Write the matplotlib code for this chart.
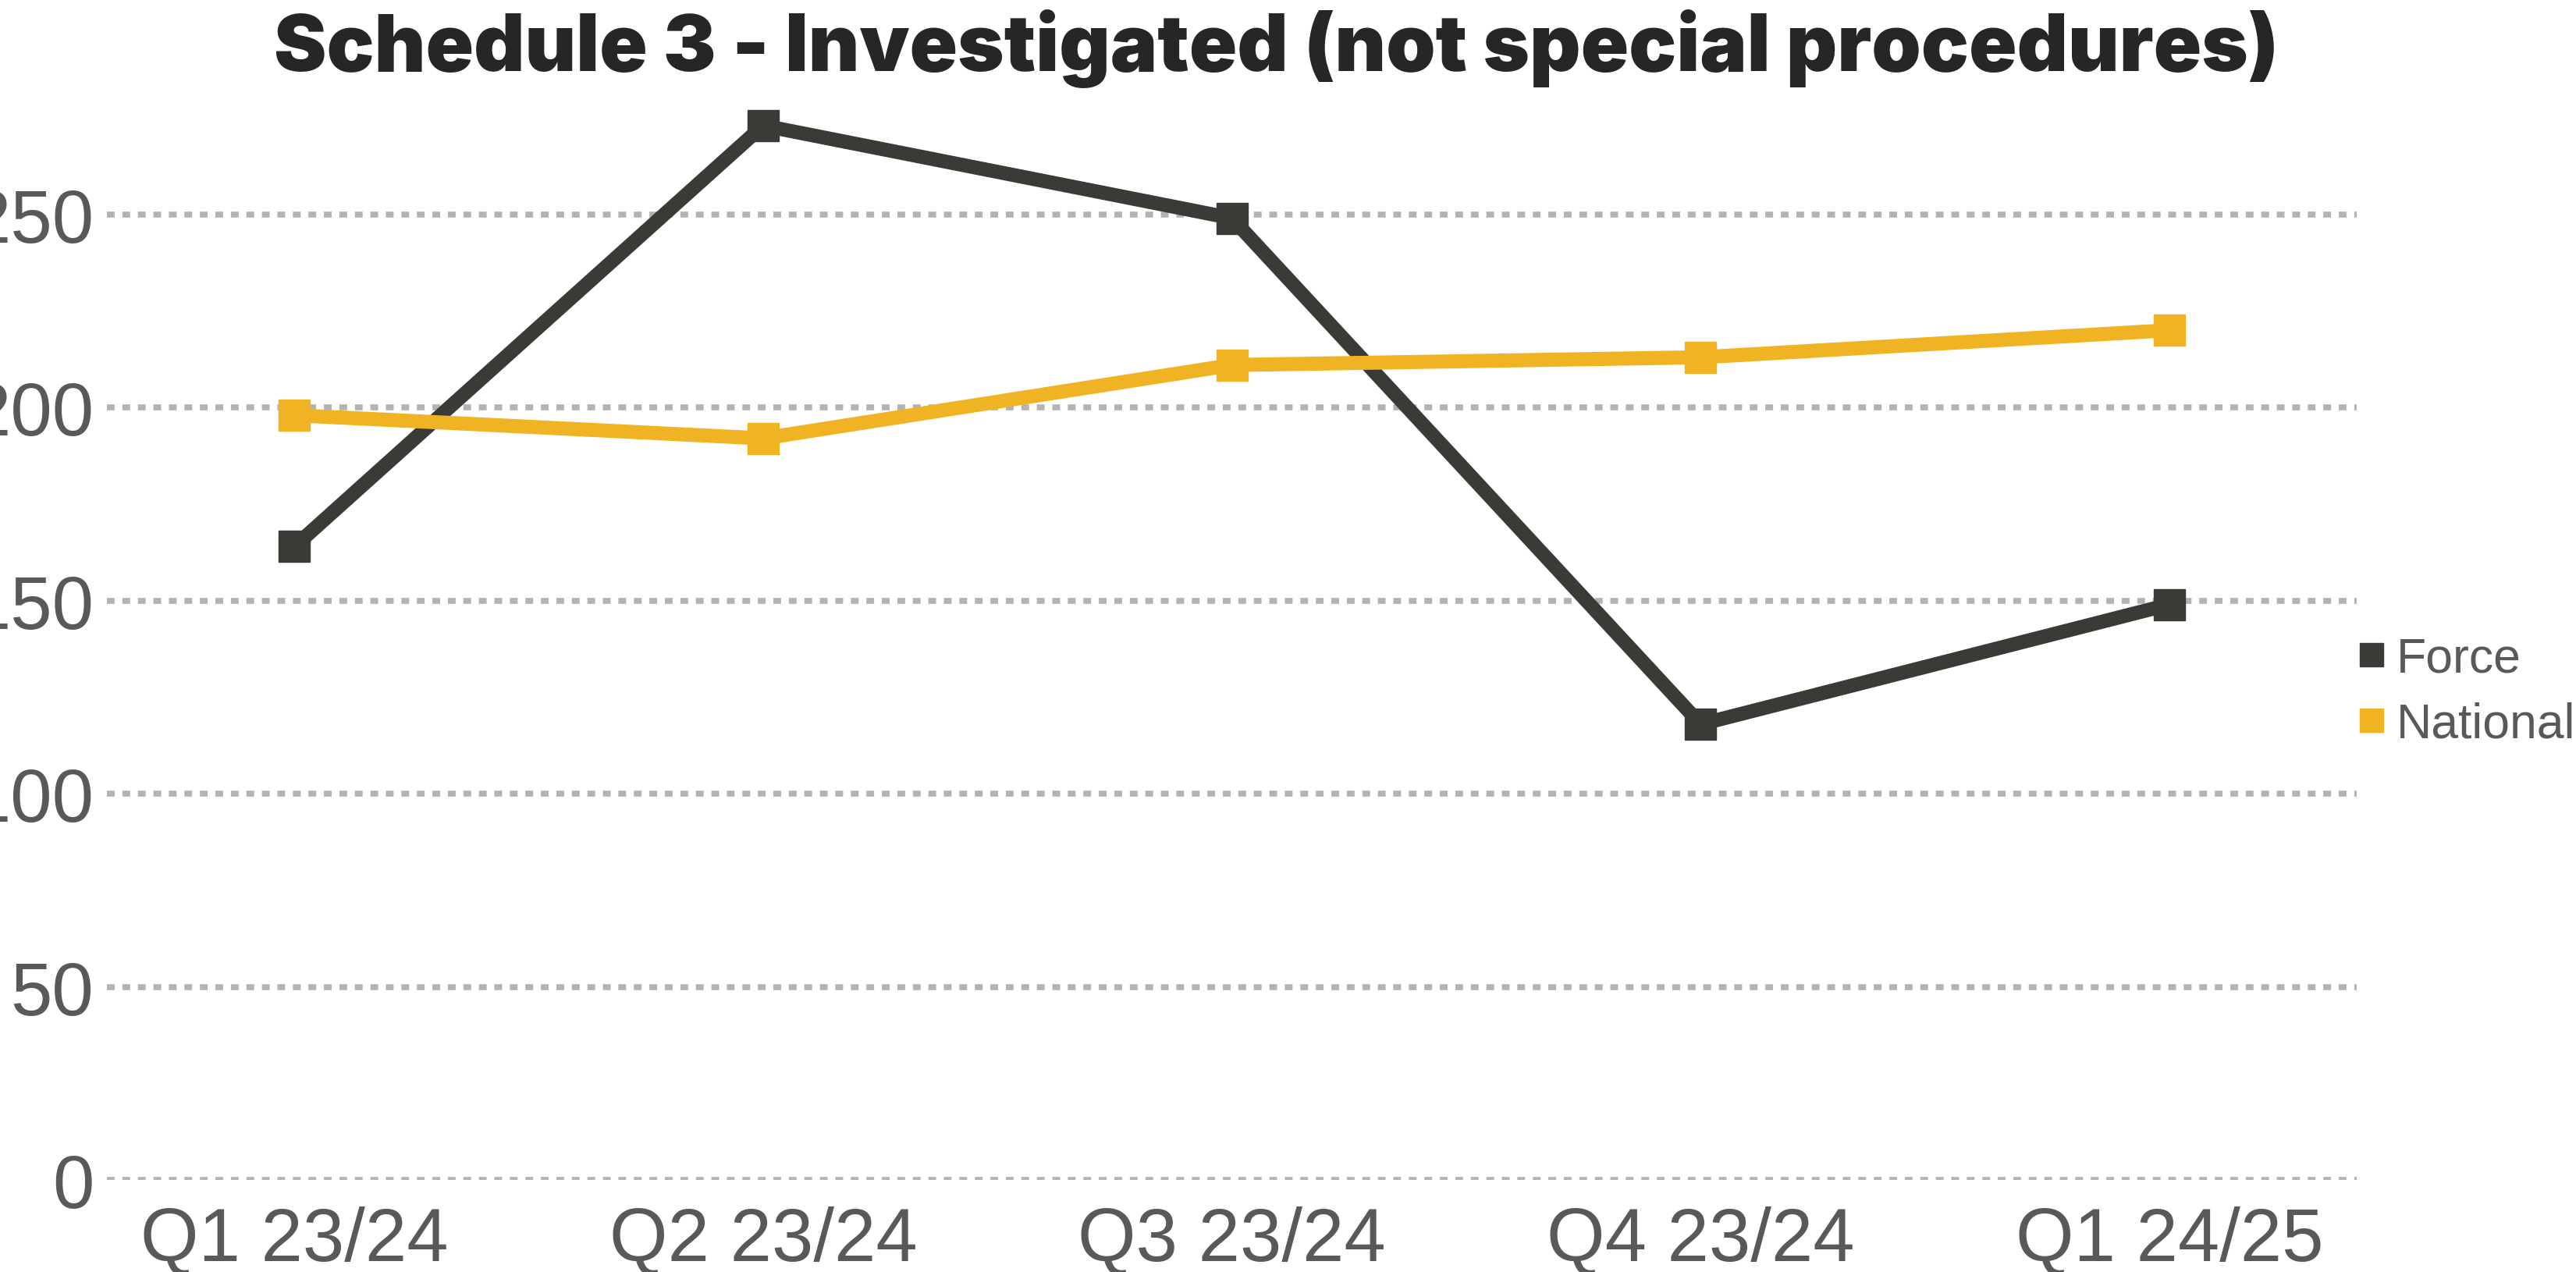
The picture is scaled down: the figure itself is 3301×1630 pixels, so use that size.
import numpy as np
import matplotlib.pyplot as plt
from matplotlib.lines import Line2D

quarters = ['Q1 23/24', 'Q2 23/24', 'Q3 23/24', 'Q4 23/24', 'Q1 24/25']
force = [164, 273, 249, 118, 149]
national = [198, 192, 211, 213, 220]
yticks = [0, 50, 100, 150, 200, 250]

force_col = '#3a3b37'
nat_col = '#f0b323'
text_col = '#595959'

plt.rcParams['font.family'] = ['Liberation Sans', 'DejaVu Sans']

fig = plt.figure(figsize=(33.01, 16.31), dpi=100)
ax = fig.add_axes([0.0415, 0.0723, 0.8735, 0.8497])

x = np.arange(len(quarters))
ax.plot(x, force, color=force_col, lw=13, marker='s', ms=29, clip_on=False, zorder=3)
ax.plot(x, national, color=nat_col, lw=13, marker='s', ms=29, clip_on=False, zorder=3)

ax.set_xlim(-0.4, 4.4)
ax.set_ylim(0, 280)
ax.set_yticks(yticks)
ax.set_xticks(x)
ax.set_xticklabels(quarters)
for s in ax.spines.values():
    s.set_visible(False)
ax.tick_params(axis='both', length=0, labelsize=69, colors=text_col)
ax.tick_params(axis='x', pad=24)
ax.tick_params(axis='y', pad=12)
ax.yaxis.grid(True, color='#b3b3b3', lw=5.5, linestyle=(0, (1.3, 1.3)))
ax.set_axisbelow(True)

fig.text(0.4955, 0.944, 'Schedule 3 - Investigated (not special procedures)',
         ha='center', va='baseline', fontsize=73, family='Inter',
         fontweight='black', color='#262626')

handles = [Line2D([], [], color=force_col, marker='s', ms=21, lw=0),
           Line2D([], [], color=nat_col, marker='s', ms=21, lw=0)]
fig.legend(handles, ['Force', 'National'], loc='center left',
           bbox_to_anchor=(0.9065, 0.456), frameon=False, fontsize=45,
           labelcolor=text_col, handlelength=0.5, handletextpad=0.25,
           labelspacing=0.4, borderpad=0)

fig.savefig('out.png', dpi=100)
